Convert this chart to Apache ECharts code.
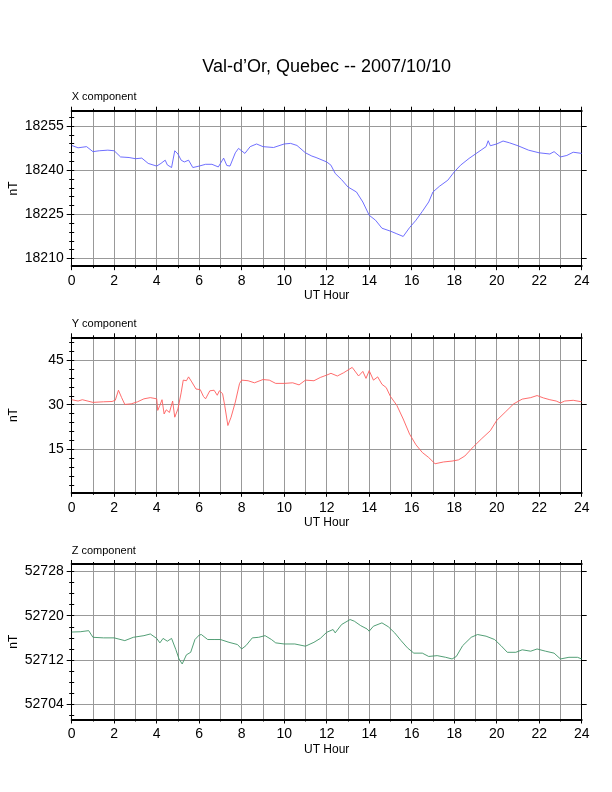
<!DOCTYPE html>
<html>
<head>
<meta charset="utf-8">
<script src="https://cdn.jsdelivr.net/npm/echarts@6/dist/echarts.min.js"></script>
<style>
  html, body { margin: 0; padding: 0; background: #fff; }
  #chart { width: 612px; height: 792px; }
</style>
</head>
<body>
<div id="chart"></div>
<script>
// --- data ---
const xHours = [0, 0.3, 0.7, 1.0, 1.3, 1.7, 2.0, 2.3, 2.7, 3.0, 3.3, 3.6, 4.0, 4.2, 4.4, 4.5, 4.7, 4.85, 5.0, 5.15,
  5.3, 5.5, 5.7, 6.0, 6.3, 6.6, 6.9, 7.15, 7.3, 7.45, 7.7, 7.85, 8.15, 8.4, 8.7, 9.0, 9.5, 10.0, 10.3, 10.6,
  11.0, 11.3, 11.5, 12.0, 12.2, 12.4, 12.7, 13.0, 13.4, 13.7, 14.0, 14.3, 14.6, 15.0, 15.3, 15.6, 15.9, 16.2, 16.5, 16.8,
  17.0, 17.3, 17.7, 18.0, 18.3, 18.7, 19.0, 19.3, 19.5, 19.6, 19.7, 20.0, 20.3, 20.6, 21.0, 21.5, 22.0, 22.5, 22.7, 23.0,
  23.3, 23.6, 24.0];
const xValues = [18248.4, 18247.6, 18248.0, 18246.3, 18246.6, 18246.8, 18246.6, 18244.5, 18244.3, 18243.9, 18244.1, 18242.3, 18241.4, 18242.3, 18243.4, 18241.8, 18240.9, 18246.6, 18245.5, 18243.4,
  18242.8, 18243.4, 18240.9, 18241.4, 18242.0, 18242.0, 18241.1, 18244.1, 18241.6, 18241.4, 18245.9, 18247.4, 18245.7, 18248.0, 18248.9, 18248.0, 18247.7, 18248.9, 18249.1, 18248.4,
  18245.9, 18244.8, 18244.3, 18242.8, 18241.7, 18238.9, 18236.8, 18234.3, 18232.6, 18229.2, 18224.7, 18223.0, 18220.3, 18219.3, 18218.4, 18217.5, 18220.5, 18223.0, 18226.0, 18229.2,
  18232.6, 18234.5, 18236.6, 18239.4, 18241.7, 18244.0, 18245.5, 18247.0, 18248.0, 18250.0, 18248.3, 18248.9, 18249.9, 18249.3, 18248.3, 18246.8, 18245.9, 18245.5, 18246.3, 18244.5,
  18245.0, 18246.1, 18245.7];

const yHours = [0, 0.3, 0.5, 1.0, 1.5, 1.9, 2.05, 2.2, 2.35, 2.5, 2.8, 3.1, 3.4, 3.7, 4.0, 4.05, 4.15, 4.25, 4.35, 4.45,
  4.6, 4.75, 4.85, 5.0, 5.15, 5.25, 5.4, 5.5, 5.65, 5.85, 6.05, 6.2, 6.3, 6.5, 6.7, 6.85, 6.95, 7.1, 7.2, 7.35,
  7.5, 7.7, 7.9, 8.0, 8.3, 8.6, 9.0, 9.3, 9.6, 10.0, 10.4, 10.7, 11.0, 11.4, 11.7, 12.0, 12.2, 12.5, 12.8, 13.2,
  13.5, 13.7, 13.85, 14.0, 14.2, 14.4, 14.6, 14.8, 15.0, 15.3, 15.6, 15.9, 16.2, 16.5, 16.8, 17.1, 17.5, 17.9, 18.2, 18.5,
  18.9, 19.3, 19.7, 20.0, 20.4, 20.8, 21.2, 21.6, 21.9, 22.2, 22.5, 22.8, 23.0, 23.2, 23.6, 24.0];
const yValues = [31.7, 31.25, 31.7, 30.8, 31.0, 31.1, 31.5, 34.9, 32.4, 30.1, 30.3, 31.0, 32.0, 32.4, 32.0, 28.1, 29.8, 31.7, 26.9, 28.3,
  27.4, 31.25, 25.8, 28.6, 34.0, 38.3, 38.1, 39.4, 37.7, 35.3, 35.1, 32.8, 32.0, 34.7, 34.9, 33.2, 34.7, 33.75, 29.8, 23.0,
  25.8, 30.9, 37.2, 38.3, 38.1, 37.4, 38.5, 38.3, 37.2, 37.2, 37.4, 36.7, 38.3, 38.1, 39.2, 40.0, 40.6, 39.7, 40.8, 42.6,
  39.7, 41.25, 38.9, 41.5, 38.3, 39.4, 36.9, 35.8, 32.8, 29.8, 25.2, 20.1, 16.5, 13.9, 12.2, 10.1, 10.7, 11.0, 11.4, 12.7,
  15.8, 18.6, 21.25, 24.7, 27.5, 30.3, 31.9, 32.4, 33.1, 32.3, 31.7, 31.25, 30.6, 31.25, 31.5, 31.0];

const zHours = [0, 0.4, 0.8, 1.0, 1.5, 2.0, 2.5, 2.9, 3.4, 3.7, 4.0, 4.15, 4.3, 4.5, 4.7, 4.9, 5.05, 5.2, 5.4, 5.6,
  5.8, 6.0, 6.1, 6.4, 6.7, 7.0, 7.4, 7.8, 8.0, 8.2, 8.5, 8.8, 9.1, 9.4, 9.6, 10.0, 10.5, 11.0, 11.4, 11.7,
  12.0, 12.3, 12.4, 12.7, 13.1, 13.3, 13.6, 13.9, 14.0, 14.2, 14.6, 14.9, 15.2, 15.5, 15.8, 16.1, 16.5, 16.8, 17.2, 17.6,
  17.9, 18.1, 18.4, 18.8, 19.1, 19.5, 19.9, 20.2, 20.5, 20.9, 21.2, 21.6, 21.9, 22.3, 22.7, 23.0, 23.4, 23.8, 24.0];
const zValues = [52717.05, 52717.1, 52717.3, 52716.1, 52716.0, 52716.0, 52715.5, 52716.1, 52716.4, 52716.7, 52715.9, 52715.1, 52715.9, 52715.4, 52715.9, 52713.9, 52712.2, 52711.3, 52712.95, 52713.4,
  52715.7, 52716.5, 52716.6, 52715.7, 52715.7, 52715.7, 52715.2, 52714.8, 52714.0, 52714.6, 52716.0, 52716.1, 52716.4, 52715.7, 52715.1, 52714.9, 52714.9, 52714.5, 52715.2, 52715.9,
  52717.0, 52717.5, 52716.9, 52718.4, 52719.3, 52719.0, 52718.2, 52717.6, 52717.2, 52718.1, 52718.7, 52718.0, 52716.9, 52715.5, 52714.2, 52713.25, 52713.25, 52712.65, 52712.8, 52712.5,
  52712.2, 52712.65, 52714.6, 52716.1, 52716.6, 52716.3, 52715.7, 52714.6, 52713.4, 52713.4, 52713.85, 52713.6, 52714.0, 52713.6, 52713.25, 52712.2, 52712.5, 52712.5, 52712.2];

const hourLabels = [0, 2, 4, 6, 8, 10, 12, 14, 16, 18, 20, 22, 24];
const xMajor = [18210, 18225, 18240, 18255];
const yMajor = [15, 30, 45];
const zMajor = [52704, 52712, 52720, 52728];

const titleText = "Val-d\u2019Or, Quebec -- 2007/10/10";
const panelNames = ["X component", "Y component", "Z component"];

// --- layout ---
const FONT = '"Liberation Sans", Helvetica, Arial, sans-serif';
const plotLeft = 71.7, plotWidth = 510, plotHeight = 155.5;

function steps(from, to, step) {
  const out = [];
  for (let v = from; v <= to + 1e-9; v += step) out.push(+v.toFixed(4));
  return out;
}

const panels = [
  { top: 110.7, min: 18207.4, max: 18260.2, major: xMajor, minor: steps(18210, 18258, 3),
    hours: xHours, values: xValues, color: "#5f5fff" },
  { top: 337.3, min: 0.3, max: 52.75, major: yMajor, minor: steps(3, 51, 3),
    hours: yHours, values: yValues, color: "#ff5c5c" },
  { top: 564, min: 52701.3, max: 52729.3, major: zMajor, minor: steps(52702, 52728, 2),
    hours: zHours, values: zValues, color: "#3f9466" },
];

const grids = [], xAxes = [], yAxes = [], series = [], graphics = [];

graphics.push({
  type: "text", x: plotLeft + plotWidth / 2, y: 67,
  style: { text: titleText, font: "18px " + FONT, fill: "#000",
    align: "center", verticalAlign: "middle", textAlign: "center", textVerticalAlign: "middle" },
});

panels.forEach((p, i) => {
  grids.push({ left: plotLeft, width: plotWidth, top: p.top, height: plotHeight, outerBoundsMode: "none" });

  const hourAxis = {
    gridIndex: i, type: "value", min: 0, max: 24, interval: 2,
    axisLine: { onZero: false, lineStyle: { color: "#000", width: 2 } },
    axisTick: { length: 4, lineStyle: { color: "#000", width: 1 } },
    minorTick: { show: true, splitNumber: 2, length: 2, lineStyle: { color: "#000", width: 1 } },
  };
  xAxes.push(Object.assign({}, hourAxis, {
    position: "bottom",
    splitLine: { show: true, lineStyle: { color: "#999", width: 1 } },
    minorSplitLine: { show: true, lineStyle: { color: "#999", width: 1 } },
    axisLabel: { fontSize: 14, color: "#000", margin: 8, fontFamily: FONT,
      customValues: hourLabels, formatter: (v) => String(v) },
  }));
  xAxes.push(Object.assign({}, hourAxis, {
    position: "top",
    splitLine: { show: false },
    axisLabel: { show: false },
  }));

  const base = { gridIndex: i, type: "value", min: p.min, max: p.max, scale: true };
  // left, major ticks + labels + grid lines
  yAxes.push(Object.assign({}, base, {
    position: "left",
    axisLine: { show: true, onZero: false, lineStyle: { color: "#000", width: 1 } },
    axisTick: { show: true, length: 5, customValues: p.major, lineStyle: { color: "#000" } },
    axisLabel: { show: true, customValues: p.major, fontSize: 14, color: "#000", margin: 8, fontFamily: FONT,
      formatter: (v) => String(v) },
    splitLine: { show: true, lineStyle: { color: "#999", width: 1 } },
  }));
  // left, minor ticks
  yAxes.push(Object.assign({}, base, {
    position: "left",
    axisLine: { show: false },
    axisTick: { show: true, length: 2.5, customValues: p.minor, lineStyle: { color: "#000" } },
    axisLabel: { show: false },
    splitLine: { show: false },
  }));
  // right, major ticks
  yAxes.push(Object.assign({}, base, {
    position: "right",
    axisLine: { show: true, onZero: false, lineStyle: { color: "#000", width: 1 } },
    axisTick: { show: true, length: 5, customValues: p.major, lineStyle: { color: "#000" } },
    axisLabel: { show: false },
    splitLine: { show: false },
  }));
  // right, minor ticks
  yAxes.push(Object.assign({}, base, {
    position: "right",
    axisLine: { show: false },
    axisTick: { show: true, length: 2.5, customValues: p.minor, lineStyle: { color: "#000" } },
    axisLabel: { show: false },
    splitLine: { show: false },
  }));

  series.push({
    name: panelNames[i], type: "line", xAxisIndex: 2 * i, yAxisIndex: 4 * i,
    data: p.hours.map((h, k) => [h, p.values[k]]),
    showSymbol: false, symbol: "none", silent: true,
    lineStyle: { color: p.color, width: 0.9 },
  });

  const midY = p.top + plotHeight / 2;
  graphics.push({
    type: "text", x: plotLeft, y: p.top - 13.3,
    style: { text: panelNames[i], font: "11px " + FONT, fill: "#000",
      align: "left", verticalAlign: "middle", textAlign: "left", textVerticalAlign: "middle" },
  });
  graphics.push({
    type: "text", x: 13.7, y: midY, rotation: Math.PI / 2,
    style: { text: "nT", font: "12px " + FONT, fill: "#000",
      align: "center", verticalAlign: "middle", textAlign: "center", textVerticalAlign: "middle" },
  });
  graphics.push({
    type: "text", x: plotLeft + plotWidth / 2, y: p.top + plotHeight + 29.8,
    style: { text: "UT Hour", font: "12px " + FONT, fill: "#000",
      align: "center", verticalAlign: "middle", textAlign: "center", textVerticalAlign: "middle" },
  });
});

const myChart = echarts.init(document.getElementById("chart"), null, { renderer: "canvas" });
myChart.setOption({
  animation: false,
  backgroundColor: "#fff",
  grid: grids,
  xAxis: xAxes,
  yAxis: yAxes,
  series: series,
  graphic: graphics,
});
</script>
</body>
</html>
